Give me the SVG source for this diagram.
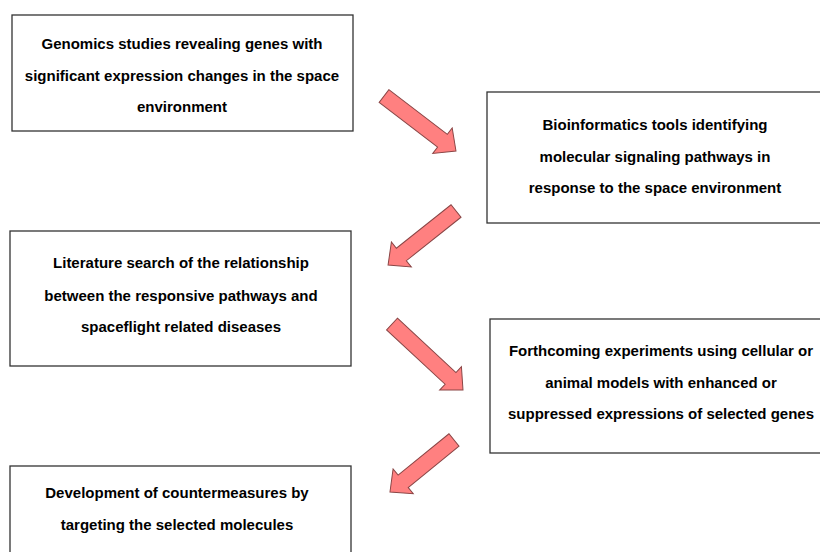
<svg xmlns="http://www.w3.org/2000/svg" width="820" height="552" viewBox="0 0 820 552">
<style>
.box{fill:#fff;stroke:#333;stroke-width:1.3}
.t{font-family:"Liberation Sans",Arial,sans-serif;font-weight:bold;font-size:15px;fill:#000;text-anchor:middle}
.arr{fill:#ff8080;stroke:#8a4545;stroke-width:1;stroke-linejoin:miter}
</style>
<rect width="820" height="552" fill="#fff"/>
<g id="node1">
<rect class="box" x="12" y="15" width="341" height="116"/>
<text class="t" x="182" y="49">Genomics studies revealing genes with</text>
<text class="t" x="182" y="81">significant expression changes in the space</text>
<text class="t" x="182" y="112">environment</text>
</g>
<g id="node2">
<rect class="box" x="487" y="92" width="340" height="131"/>
<text class="t" x="655" y="130">Bioinformatics tools identifying</text>
<text class="t" x="655" y="162">molecular signaling pathways in</text>
<text class="t" x="655" y="193">response to the space environment</text>
</g>
<g id="node3">
<rect class="box" x="10" y="231" width="341" height="135"/>
<text class="t" x="181" y="268">Literature search of the relationship</text>
<text class="t" x="181" y="301">between the responsive pathways and</text>
<text class="t" x="181" y="332">spaceflight related diseases</text>
</g>
<g id="node4">
<rect class="box" x="490" y="319" width="340" height="134"/>
<text class="t" x="661" y="356">Forthcoming experiments using cellular or</text>
<text class="t" x="661" y="388">animal models with enhanced or</text>
<text class="t" x="661" y="419">suppressed expressions of selected genes</text>
</g>
<g id="node5">
<rect class="box" x="10" y="466" width="341" height="100"/>
<text class="t" x="177" y="498">Development of countermeasures by</text>
<text class="t" x="177" y="530">targeting the selected molecules</text>
</g>
<g id="connectors">
<path class="arr" transform="translate(384,96) rotate(37.4)" d="M0,-8 H73.6 V-16 L90.6,0 L73.6,16 V8 H0 Z"/>
<path class="arr" transform="translate(456,211) rotate(141.5)" d="M0,-8 H69.8 V-16 L86.8,0 L69.8,16 V8 H0 Z"/>
<path class="arr" transform="translate(392,324) rotate(42.9)" d="M0,-8 H79.9 V-16 L96.9,0 L79.9,16 V8 H0 Z"/>
<path class="arr" transform="translate(454,440) rotate(140.9)" d="M0,-8 H65.5 V-16 L82.5,0 L65.5,16 V8 H0 Z"/>
</g>
</svg>
